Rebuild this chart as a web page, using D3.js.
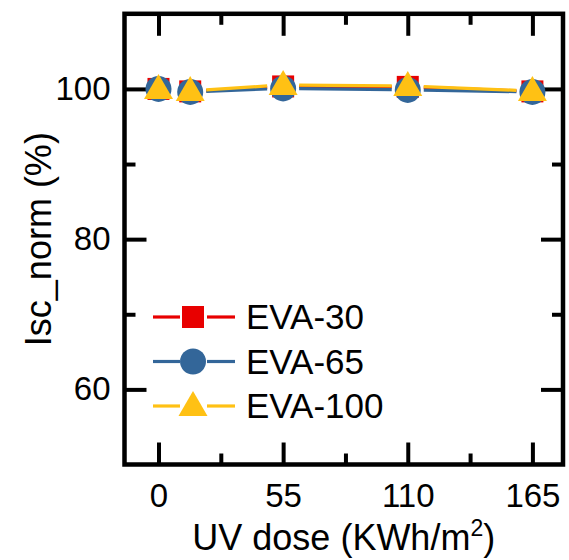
<!DOCTYPE html>
<html>
<head>
<meta charset="utf-8">
<script src="https://cdn.jsdelivr.net/npm/d3@7"></script>
<style>
  body { margin: 0; background: #fff; }
  text { font-family: "Liberation Sans", Arial, sans-serif; fill: #000; }
</style>
</head>
<body>
<svg id="chart" width="569" height="560"></svg>
<script>
// data
const doses = [0, 14, 55, 110, 165];
const eva30 = [100.0, 99.67, 100.33, 100.27, 99.67];
const eva65 = [100.0, 99.6, 100.07, 99.87, 99.6];
const eva100 = [100.0, 99.73, 100.53, 100.4, 99.73];
const seriesNames = ["EVA-30", "EVA-65", "EVA-100"];
const xTicks = [0, 55, 110, 165];
const xMinor = [27.5, 82.5, 137.5];
const yTicks = [60, 80, 100];
const yMinor = [70, 90];

const colors = ["#e80000", "#336699", "#ffc114"];
const shapes = ["square", "circle", "triangle"];

const svg = d3.select("#chart");
const pLeft = 124.5, pRight = 563, pTop = 13.8, pBottom = 464.5;

const x = d3.scaleLinear().domain([-15, 178.5]).range([pLeft, pRight]);
const y = d3.scaleLinear().domain([50, 110]).range([pBottom, pTop]);

//ticks on all four sides, pointing in
function addAxis(axisFn, scale, ticks, size, transform, labels, pad) {
  const g = svg.append("g").attr("transform", transform)
    .call(axisFn(scale).tickValues(ticks).tickSize(-size).tickPadding(pad)
      .tickFormat(labels ? d3.format("d") : ""));
  g.select(".domain").remove();
  g.selectAll(".tick line").attr("stroke", "#000").attr("stroke-width", 4);
  g.selectAll(".tick text").attr("font-size", 33).attr("font-family", "Liberation Sans, Arial, sans-serif");
  return g;
}
addAxis(d3.axisBottom, x, xTicks, 22, `translate(0,${pBottom})`, true, 19);
addAxis(d3.axisBottom, x, xMinor, 11, `translate(0,${pBottom})`, false, 0);
addAxis(d3.axisTop, x, xTicks, 22, `translate(0,${pTop})`, false, 0);
addAxis(d3.axisTop, x, xMinor, 11, `translate(0,${pTop})`, false, 0);
addAxis(d3.axisLeft, y, yTicks, 22, `translate(${pLeft},0)`, true, 14);
addAxis(d3.axisLeft, y, yMinor, 11, `translate(${pLeft},0)`, false, 0);
addAxis(d3.axisRight, y, yTicks, 22, `translate(${pRight},0)`, false, 0);
addAxis(d3.axisRight, y, yMinor, 11, `translate(${pRight},0)`, false, 0);

svg.append("rect")
  .attr("x", pLeft).attr("y", pTop)
  .attr("width", pRight - pLeft).attr("height", pBottom - pTop)
  .attr("fill", "none").attr("stroke", "#000").attr("stroke-width", 4.5);

// marker drawing
function marker(g, shape, color) {
  if (shape === "square") {
    g.append("rect").attr("x", -11).attr("y", -11).attr("width", 22).attr("height", 22).attr("fill", color);
  } else if (shape === "circle") {
    g.append("circle").attr("r", 13).attr("fill", color);
  } else {
    g.append("path").attr("d", "M0,-15L14.5,10L-14.5,10Z").attr("fill", color);
  }
}

const allSeries = [eva30, eva65, eva100];
const gap = 16; // origin-style gap between line and symbol

allSeries.forEach((vals, si) => {
  const pts = doses.map((d, i) => [x(d), y(vals[i])]);
  const g = svg.append("g");
  for (let i = 0; i < pts.length - 1; i++) {
    const [x1, y1] = pts[i], [x2, y2] = pts[i + 1];
    const len = Math.hypot(x2 - x1, y2 - y1);
    if (len <= 2 * gap) continue;
    const ux = (x2 - x1) / len, uy = (y2 - y1) / len;
    g.append("line")
      .attr("x1", x1 + ux * gap).attr("y1", y1 + uy * gap)
      .attr("x2", x2 - ux * gap).attr("y2", y2 - uy * gap)
      .attr("stroke", colors[si]).attr("stroke-width", 3.2);
  }
  pts.forEach(p => {
    marker(g.append("g").attr("transform", `translate(${p[0]},${p[1]})`), shapes[si], colors[si]);
  });
});

// legend
const leg = svg.append("g").attr("transform", "translate(153,317)");
seriesNames.forEach((name, i) => {
  const row = leg.append("g").attr("transform", `translate(0,${i * 44.5})`);
  row.append("line").attr("x1", 0).attr("x2", 27).attr("stroke", colors[i]).attr("stroke-width", 3.2);
  row.append("line").attr("x1", 54).attr("x2", 82).attr("stroke", colors[i]).attr("stroke-width", 3.2);
  marker(row.append("g").attr("transform", "translate(40,0)"), shapes[i], colors[i]);
  row.append("text").attr("x", 93).attr("y", 12).attr("font-size", 35).text(name);
});

// axis titles
const xt = svg.append("text")
  .attr("x", (pLeft + pRight) / 2).attr("y", 550)
  .attr("text-anchor", "middle").attr("font-size", 36);
xt.append("tspan").text("UV dose (KWh/m");
xt.append("tspan").attr("font-size", 23).attr("dy", -14).text("2");
xt.append("tspan").attr("dy", 14).text(")");

svg.append("text")
  .attr("transform", `translate(51,${(pTop + pBottom) / 2}) rotate(-90)`)
  .attr("text-anchor", "middle").attr("font-size", 36)
  .text("Isc_norm (%)");
</script>
</body>
</html>
